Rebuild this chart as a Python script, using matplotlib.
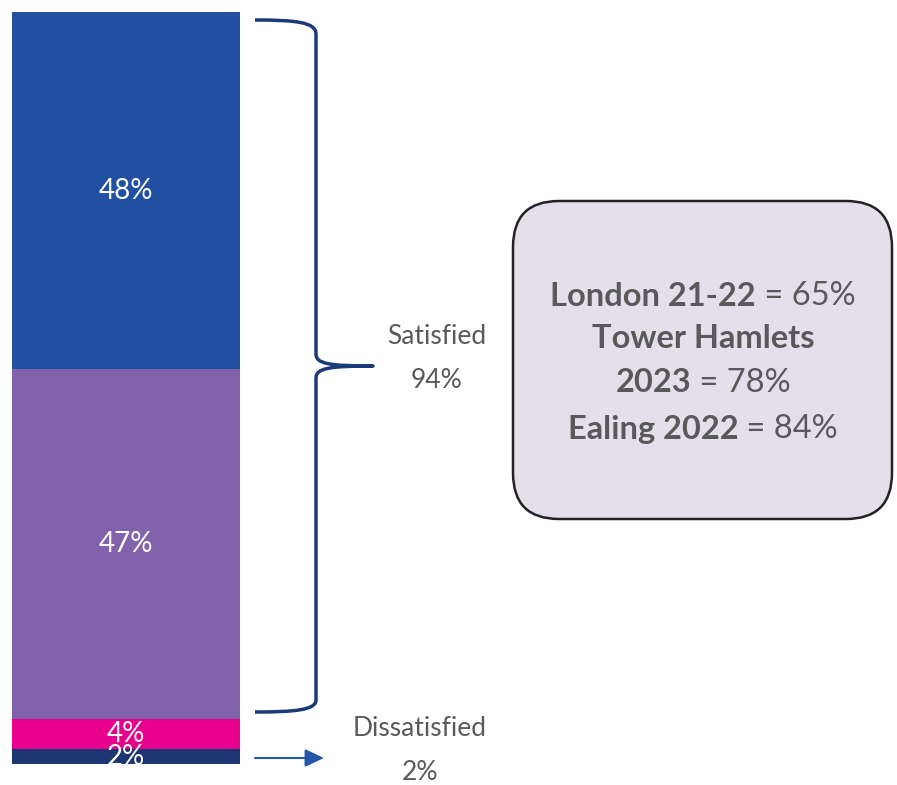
import matplotlib
matplotlib.use("Agg")
import matplotlib.pyplot as plt
from matplotlib.path import Path
from matplotlib.patches import PathPatch, FancyBboxPatch, FancyArrowPatch

# stacked satisfaction shares, bottom to top
segments = ["Very dissatisfied", "Fairly dissatisfied", "Fairly satisfied", "Very satisfied"]
shares = [2, 4, 47, 48]
seg_colors = ["#1B3672", "#E6008C", "#8262AA", "#2150A3"]

group_labels = ["Satisfied", "Dissatisfied"]
group_values = [94, 2]

benchmarks = [
    [("London 21-22", "bold"), (" = 65%", "normal")],
    [("Tower Hamlets", "bold")],
    [("2023", "bold"), (" = 78%", "normal")],
    [("Ealing 2022", "bold"), (" = 84%", "normal")],
]

W, H = 897, 785
font = "Lato"
grey = "#595959"
navy = "#1B3A78"

fig = plt.figure(figsize=(W / 100, H / 100), dpi=100)

# bar axes: one stacked column filling the axes
ax = fig.add_axes([12 / W, 21 / H, 228 / W, 752 / H])
bottom = 0
for val, col in zip(shares, seg_colors):
    ax.bar(0, val, bottom=bottom, width=1, color=col, linewidth=0)
    ax.text(0, bottom + val / 2, f"{val}%", ha="center", va="center",
            color="white", fontsize=20, family=font, clip_on=True)
    bottom += val
ax.set_xlim(-0.5, 0.5)
ax.set_ylim(0, bottom)
ax.axis("off")

# overlay in pixel coordinates for brace, arrow and call-out box
ov = fig.add_axes([0, 0, 1, 1], zorder=-1)
ov.set_xlim(0, W)
ov.set_ylim(H, 0)
ov.axis("off")

verts = [(255, 20), (295, 20), (316, 22), (316, 34),
         (316, 354),
         (316, 364), (330, 366), (373, 366),
         (330, 366), (316, 368), (316, 378),
         (316, 700),
         (316, 710), (295, 712), (255, 712)]
codes = [Path.MOVETO, Path.CURVE4, Path.CURVE4, Path.CURVE4,
         Path.LINETO,
         Path.CURVE4, Path.CURVE4, Path.CURVE4,
         Path.CURVE4, Path.CURVE4, Path.CURVE4,
         Path.LINETO,
         Path.CURVE4, Path.CURVE4, Path.CURVE4]
ov.add_patch(PathPatch(Path(verts, codes), fill=False, edgecolor=navy,
                       linewidth=2.5, capstyle="butt", joinstyle="round"))

ov.add_patch(FancyArrowPatch((255, 758), (324, 758),
                             arrowstyle="-|>,head_length=11.5,head_width=5.4",
                             color="#2356A8", linewidth=1.5, mutation_scale=1,
                             shrinkA=0, shrinkB=0))

lab_kw = dict(ha="center", va="center", fontsize=19, color=grey, family=font)
ov.text(437, 337, group_labels[0], **lab_kw)
ov.text(437, 381, f"{group_values[0]}%", **lab_kw)
ov.text(420, 729, group_labels[1], **lab_kw)
ov.text(420, 772, f"{group_values[1]}%", **lab_kw)

box = FancyBboxPatch((513, 201), 379, 318, boxstyle="round,pad=0,rounding_size=46",
                     facecolor="#E5DFEC", edgecolor="#222222", linewidth=1.8)
ov.add_patch(box)

# call-out text: bold and regular runs on one line, centred as a whole
renderer = fig.canvas.get_renderer()
cx = 703
line_y = [296, 339, 383, 429]
for parts, y in zip(benchmarks, line_y):
    texts = []
    for s, weight in parts:
        t = ov.text(0, y, s, ha="left", va="center", fontsize=23.5,
                    fontweight=weight, color=grey, family=font)
        texts.append(t)
    widths = [t.get_window_extent(renderer).width for t in texts]
    x = cx - sum(widths) / 2
    for t, w in zip(texts, widths):
        t.set_x(x)
        x += w

fig.savefig("out.png", dpi=100)
